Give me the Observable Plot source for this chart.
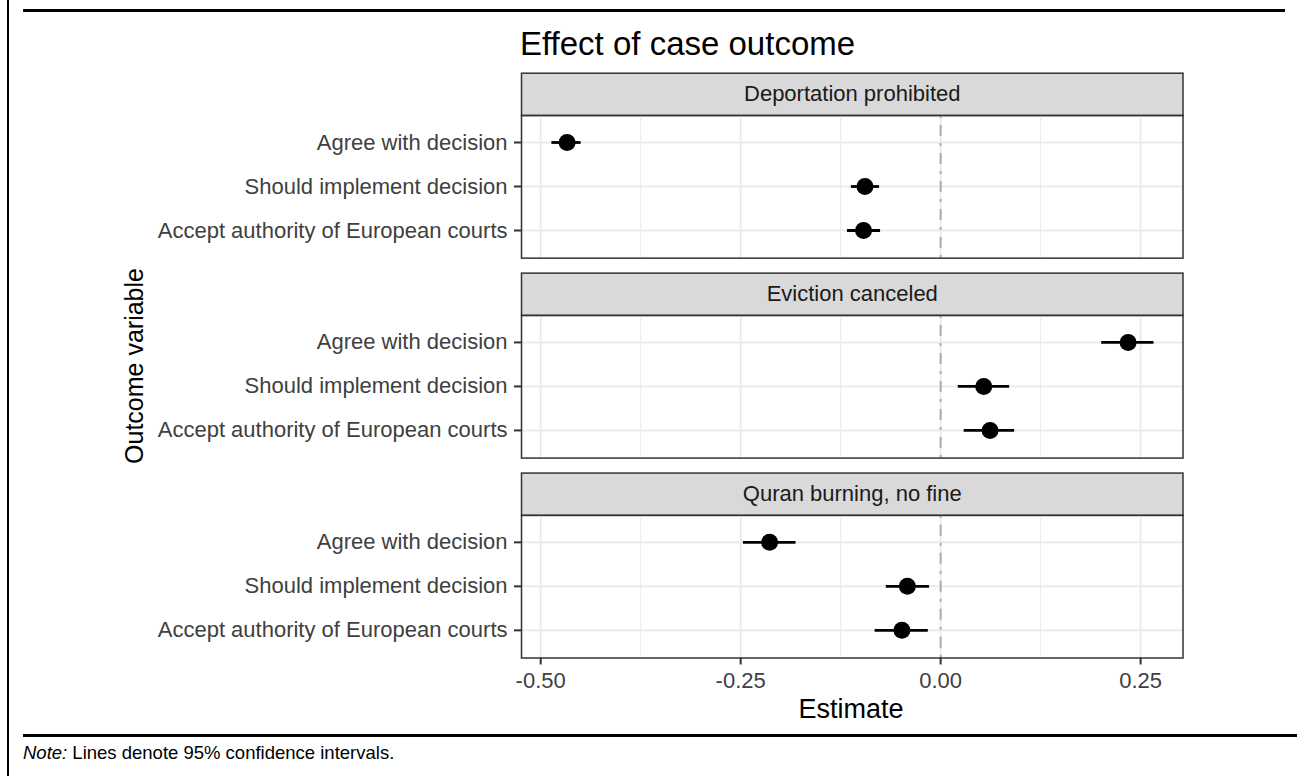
<!DOCTYPE html>
<html>
<head>
<meta charset="utf-8">
<script src="https://cdn.jsdelivr.net/npm/d3@7"></script>
<script src="https://cdn.jsdelivr.net/npm/@observablehq/plot@0.6"></script>
<style>
  body { margin: 0; background: #fff; font-family: 'Liberation Sans', Arial, Helvetica, sans-serif; }
  #wrap { position: relative; width: 1297px; height: 776px; overflow: hidden; background: #fff; }
  #chart { position: absolute; left: 0; top: 0; }
  .rule { position: absolute; background: #000; }
  #title { position: absolute; left: 520px; top: 27px; font-size: 33px; line-height: 1; color: #000; white-space: nowrap; }
  #ylab { position: absolute; left: 134px; top: 366px; font-size: 25px; line-height: 1; color: #000; white-space: nowrap;
          transform: translate(-50%, -50%) rotate(-90deg); }
  #xlab { position: absolute; left: 851px; top: 709px; font-size: 27px; line-height: 1; color: #000; white-space: nowrap;
          transform: translate(-50%, -50%); }
  #note { position: absolute; left: 23px; top: 744px; font-size: 18.5px; line-height: 1; color: #000; white-space: nowrap; }
</style>
</head>
<body>
<div id="wrap">
  <div id="chart"></div>
  <div class="rule" style="left:7px;top:0;width:2px;height:776px;"></div>
  <div class="rule" style="left:23px;top:9px;width:1262px;height:2.5px;"></div>
  <div class="rule" style="left:23px;top:734px;width:1274px;height:2.5px;"></div>
  <div id="title">Effect of case outcome</div>
  <div id="ylab">Outcome variable</div>
  <div id="xlab">Estimate</div>
  <div id="note"><i>Note:</i> Lines denote 95% confidence intervals.</div>
</div>
<script>
// ---- data ----
const panels = ["Deportation prohibited", "Eviction canceled", "Quran burning, no fine"];
const outcomes = ["Agree with decision", "Should implement decision", "Accept authority of European courts"];

const estDeportation = [-0.467, -0.0946, -0.0964];
const loDeportation  = [-0.486, -0.1115, -0.1165];
const hiDeportation  = [-0.4495, -0.0763, -0.0751];

const estEviction = [0.2344, 0.0539, 0.0618];
const loEviction  = [0.2014, 0.0221, 0.0294];
const hiEviction  = [0.2668, 0.0863, 0.0925];

const estQuran = [-0.2138, -0.0416, -0.0484];
const loQuran  = [-0.2466, -0.0679, -0.0819];
const hiQuran  = [-0.1808, -0.0138, -0.0154];

const xTicks = [-0.5, -0.25, 0, 0.25];
const xMinorTicks = [-0.375, -0.125, 0.125];

// ---- table for the library ----
const series = [
  [estDeportation, loDeportation, hiDeportation],
  [estEviction, loEviction, hiEviction],
  [estQuran, loQuran, hiQuran]
];
const rows = [];
panels.forEach((p, i) => {
  outcomes.forEach((o, j) => {
    rows.push({panel: p, outcome: o, est: series[i][0][j], lo: series[i][1][j], hi: series[i][2][j]});
  });
});

// ---- layout ----
const W = 1297, H = 776;
const facetTop = 72.7, facetBottom = 657.5, strip = 42.3;
const padInner = 0.075;
const bandH = (facetBottom - facetTop) * (1 - padInner) / (3 - padInner);
const panelH = bandH - strip;
const font = "'Liberation Sans', Arial, Helvetica, sans-serif";

const chart = Plot.plot({
  width: W,
  height: H,
  marginTop: facetTop,
  marginBottom: H - facetBottom,
  marginLeft: 521,
  marginRight: W - 1182.5,
  style: {fontFamily: font, fontSize: "22px", background: "transparent", overflow: "visible"},
  x: {domain: [-0.524, 0.303]},
  y: {type: "point", domain: outcomes, padding: 0.6, insetTop: strip},
  fy: {domain: panels, paddingInner: padInner, paddingOuter: 0, round: false, axis: null},
  marks: [
    Plot.frame({fill: "#D9D9D9", stroke: "#333333", strokeWidth: 1.5, insetBottom: panelH}),
    Plot.ruleX(xMinorTicks, {x: d => d, stroke: "#EBEBEB", strokeWidth: 1, insetTop: strip}),
    Plot.ruleX(xTicks, {x: d => d, stroke: "#EBEBEB", strokeWidth: 2, insetTop: strip}),
    Plot.ruleY(outcomes, {y: d => d, stroke: "#EBEBEB", strokeWidth: 2}),
    Plot.ruleX([0], {x: d => d, stroke: "#ADADAD", strokeWidth: 2, strokeDasharray: "3,7,11,7", insetTop: strip}),
    Plot.ruleY(rows, {y: "outcome", x1: "lo", x2: "hi", fy: "panel", stroke: "#000", strokeWidth: 2.8}),
    Plot.dot(rows, {x: "est", y: "outcome", fy: "panel", r: 8.5, fill: "#000"}),
    Plot.frame({stroke: "#333333", strokeWidth: 1.5, insetTop: strip}),
    Plot.text(panels, {fy: d => d, text: d => d, frameAnchor: "top", lineAnchor: "middle", dy: strip / 2,
                       fontSize: 22, fill: "#1A1A1A"}),
    Plot.axisY({tickSize: 7, tickPadding: 7, fontSize: 22, fill: "#404040", stroke: "#333333", strokeWidth: 2, label: null}),
    Plot.axisX({anchor: "bottom", ticks: xTicks, tickFormat: d => d.toFixed(2), tickSize: 7, tickPadding: 7,
                fontSize: 22, fill: "#404040", stroke: "#333333", strokeWidth: 2, label: null})
  ]
});
document.getElementById("chart").appendChild(chart);
</script>
</body>
</html>
